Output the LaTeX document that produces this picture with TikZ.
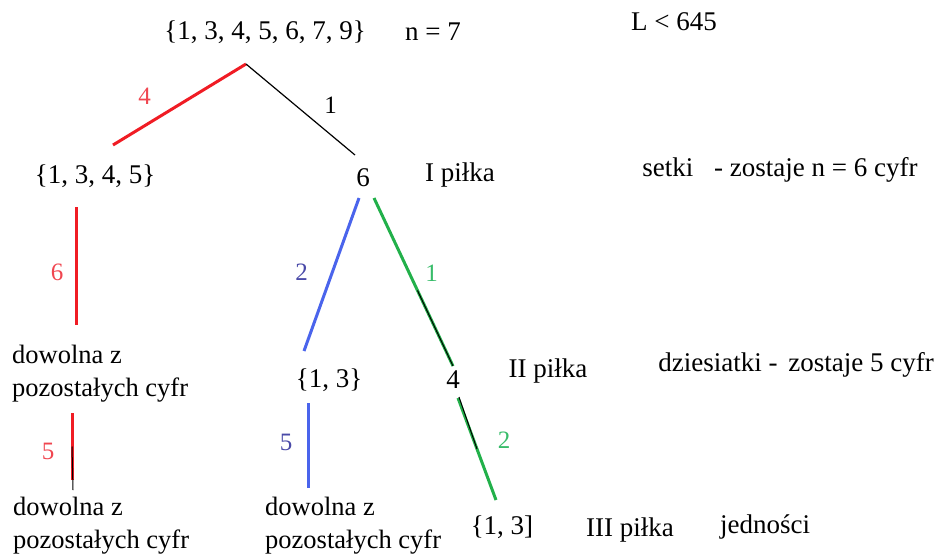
\documentclass[tikz,border=0pt]{standalone}
\usepackage{fontspec}
\setmainfont{Liberation Serif}
\usetikzlibrary{calc}

\definecolor{lineRed}{HTML}{F01C24}
\definecolor{labRed}{HTML}{F04650}
\definecolor{lineBlue}{HTML}{4A64EC}
\definecolor{labBlue}{HTML}{4A4AA8}
\definecolor{lineGreen}{HTML}{22B04A}
\definecolor{labGreen}{HTML}{38BC6A}

\begin{document}
\begin{tikzpicture}[x=1pt, y=-1pt,
        txt/.style={inner sep=0pt, font=\fontsize{27}{33}\selectfont},
        multi/.style={inner sep=0pt, font=\fontsize{26.5}{33}\selectfont, align=left, anchor=west},
        lbl/.style={inner sep=0pt, font=\fontsize{25}{25}\selectfont},
        redline/.style={draw=lineRed, line width=3pt},
        blueline/.style={draw=lineBlue, line width=3pt},
        greenline/.style={draw=lineGreen, line width=3pt},
        blackline/.style={draw=black, line width=1.2pt},
        trace/.style={draw=black, line width=1pt}
    ]
        \useasboundingbox (0,0) rectangle (934,558);

        % ROW 0: full set
        \node[txt] (root) at (265,32) {\{1, 3, 4, 5, 6, 7, 9\}};
        \node[txt] (nseven) at (433,32) {n = 7};
        \node[txt] (limit) at (674,22) {L < 645};

        % ROW 1: first ball (hundreds)
        \node[txt] (setA) at (95,176) {\{1, 3, 4, 5\}};
        \node[txt] (six) at (363,178) {6};
        \node[txt] (ballA) at (460,175) {I piłka};
        \node[txt] (hundreds) at (780,170) {setki\hspace{14pt} - zostaje n = 6 cyfr};

        % ROW 2: second ball (tens)
        \node[multi] (anyA) at (12,374) {dowolna z\\pozostałych cyfr};
        \node[txt] (setB) at (329,380) {\{1, 3\}};
        \node[txt] (four) at (453,380) {4};
        \node[txt] (ballB) at (548,371) {II piłka};
        \node[txt] (tens) at (796,365) {dziesiatki -\hspace{4pt} zostaje 5 cyfr};

        % ROW 3: third ball (units)
        \node[multi] (anyB) at (13,526) {dowolna z\\pozostałych cyfr};
        \node[multi] (anyC) at (265,526) {dowolna z\\pozostałych cyfr};
        \node[txt] (setC) at (502,527) {\{1, 3]};
        \node[txt] (ballC) at (630,530) {III piłka};
        \node[txt] (units) at (765,527) {jedności};

        % Branches
        \draw[redline] ([shift={(-19,32)}]root.center) -- ([shift={(18,-31)}]setA.center)
            node[lbl, text=labRed, midway, xshift=-35pt, yshift=8pt] (labA) {4};
        \draw[blackline] ([shift={(-19,32)}]root.center) -- ([shift={(-8,-23)}]six.center)
            node[lbl, midway, xshift=30pt, yshift=4pt] (labB) {1};
        \draw[blueline] ([shift={(-4,20)}]six.center) -- ([shift={(-25,-29)}]setB.center)
            node[lbl, text=labBlue, midway, xshift=-30pt, yshift=2pt] (labC) {2};
        \draw[greenline] ([shift={(11,20)}]six.center) -- ([shift={(0,-14)}]four.center)
            node[lbl, text=labGreen, midway, xshift=18pt, yshift=9pt] (labD) {1};
        \draw[greenline] ([shift={(5,18)}]four.center) -- ([shift={(-6,-27)}]setC.center)
            node[lbl, text=labGreen, midway, xshift=27pt, yshift=9pt] (labE) {2};
        \draw[redline] ([shift={(-19,31)}]setA.center) -- ([shift={(64,-49)}]anyA.west)
            node[lbl, text=labRed, midway, xshift=-19pt, yshift=-6pt] (labF) {6};
        \draw[redline] ([shift={(60,39)}]anyA.west) -- ([shift={(59,-46)}]anyB.west)
            node[lbl, text=labRed, midway, xshift=-24pt, yshift=-5pt] (labG) {5};
        \draw[blueline] ([shift={(-21,23)}]setB.center) -- ([shift={(43,-38)}]anyC.west)
            node[lbl, text=labBlue, midway, xshift=-22pt, yshift=3pt] (labH) {5};

        % black traces under the coloured strokes
        \draw[trace] ($([shift={(11,20)}]six.center)!0.55!([shift={(0,-14)}]four.center)$) -- ([shift={(0,-14)}]four.center);
        \draw[trace] ([shift={(6,17)}]four.center) -- ($([shift={(5,18)}]four.center)!0.5!([shift={(-6,-27)}]setC.center)$);
        \draw[trace] ($([shift={(60,39)}]anyA.west)!0.5!([shift={(59,-46)}]anyB.west)$) -- ([shift={(60,-36)}]anyB.west);
    \end{tikzpicture}
\end{document}
